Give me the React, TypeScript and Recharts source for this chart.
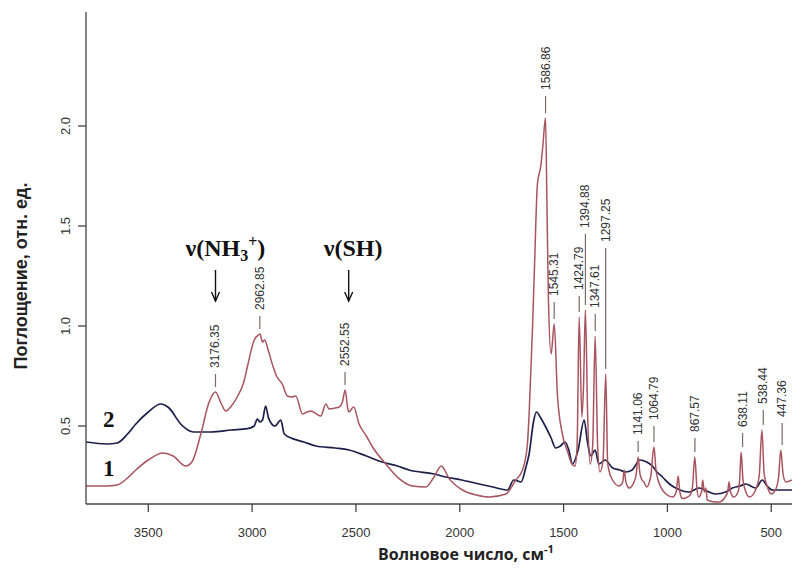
import { LineChart, Line, XAxis, YAxis, ReferenceLine, ReferenceDot, Label } from "recharts";

// spectrum 1 (red) and 2 (dark blue): [wavenumber, absorbance]
const spectrum1: [number, number][] = [
  [3800, 0.2], [3700, 0.2], [3650, 0.205], [3600, 0.24], [3560, 0.28], [3500, 0.33], [3430, 0.365],
  [3380, 0.35], [3320, 0.3], [3290, 0.32], [3247, 0.46], [3207, 0.62], [3176, 0.67], [3150, 0.615],
  [3127, 0.575], [3100, 0.6], [3072, 0.645], [3040, 0.72], [3022, 0.8], [2990, 0.93], [2970, 0.955],
  [2962, 0.96], [2950, 0.92], [2940, 0.93], [2920, 0.87], [2900, 0.8], [2880, 0.745], [2855, 0.71],
  [2830, 0.65], [2810, 0.645], [2790, 0.65], [2757, 0.56], [2735, 0.57], [2717, 0.575], [2690, 0.56],
  [2669, 0.55], [2645, 0.61], [2629, 0.585], [2600, 0.59], [2581, 0.595], [2565, 0.62], [2552, 0.68],
  [2540, 0.59], [2535, 0.57], [2511, 0.595], [2485, 0.51], [2450, 0.45], [2420, 0.395], [2356, 0.31],
  [2292, 0.237], [2228, 0.2], [2164, 0.195], [2124, 0.245], [2089, 0.3], [2051, 0.237], [1987, 0.18],
  [1920, 0.155], [1859, 0.145], [1778, 0.16], [1730, 0.23], [1698, 0.28], [1675, 0.4], [1666, 0.56],
  [1650, 0.98], [1640, 1.3], [1626, 1.71], [1610, 1.8], [1600, 1.9], [1587, 2.04], [1580, 1.6],
  [1573, 1.13], [1560, 0.86], [1545, 1.01], [1530, 0.66], [1506, 0.46], [1480, 0.37], [1460, 0.31],
  [1445, 0.3], [1435, 0.4], [1425, 1.045], [1412, 0.545], [1404, 0.7], [1395, 1.08], [1384, 0.55],
  [1372, 0.31], [1360, 0.4], [1348, 0.95], [1336, 0.4], [1325, 0.27], [1310, 0.33], [1297, 0.76],
  [1288, 0.32], [1282, 0.28], [1264, 0.23], [1232, 0.2], [1215, 0.22], [1208, 0.28], [1200, 0.22],
  [1184, 0.19], [1165, 0.21], [1150, 0.26], [1141, 0.345], [1132, 0.26], [1122, 0.23], [1113, 0.22],
  [1100, 0.195], [1080, 0.25], [1065, 0.395], [1055, 0.28], [1045, 0.23], [1007, 0.16], [975, 0.145],
  [958, 0.17], [948, 0.25], [940, 0.17], [928, 0.137], [895, 0.15], [880, 0.19], [868, 0.345],
  [858, 0.19], [850, 0.145], [836, 0.17], [830, 0.23], [822, 0.17], [815, 0.19], [808, 0.13],
  [770, 0.12], [751, 0.12], [725, 0.14], [710, 0.17], [703, 0.22], [696, 0.17], [680, 0.145],
  [660, 0.17], [652, 0.23], [645, 0.37], [636, 0.23], [625, 0.18], [605, 0.145], [580, 0.17],
  [558, 0.25], [545, 0.48], [534, 0.26], [520, 0.2], [500, 0.16], [480, 0.18], [465, 0.24],
  [454, 0.38], [443, 0.26], [430, 0.22], [400, 0.23],
];

const spectrum2: [number, number][] = [
  [3800, 0.42], [3700, 0.41], [3650, 0.415], [3600, 0.46], [3560, 0.51], [3500, 0.57], [3440, 0.61],
  [3400, 0.59], [3344, 0.51], [3300, 0.475], [3280, 0.47], [3200, 0.47], [3100, 0.48], [3022, 0.487],
  [2990, 0.5], [2975, 0.535], [2962, 0.52], [2950, 0.53], [2935, 0.6], [2920, 0.537], [2890, 0.5],
  [2862, 0.53], [2845, 0.46], [2805, 0.437], [2750, 0.42], [2693, 0.4], [2600, 0.39], [2533, 0.38],
  [2450, 0.35], [2373, 0.32], [2300, 0.3], [2244, 0.28], [2124, 0.26], [2067, 0.245], [1990, 0.23],
  [1907, 0.21], [1840, 0.195], [1770, 0.18], [1740, 0.23], [1720, 0.225], [1705, 0.22], [1680, 0.3],
  [1666, 0.36], [1645, 0.52], [1631, 0.57], [1610, 0.54], [1586, 0.495], [1560, 0.44], [1538, 0.39],
  [1515, 0.4], [1493, 0.42], [1475, 0.38], [1457, 0.31], [1430, 0.38], [1401, 0.53], [1385, 0.42],
  [1369, 0.35], [1348, 0.38], [1330, 0.31], [1300, 0.33], [1264, 0.29], [1230, 0.28], [1200, 0.27],
  [1170, 0.28], [1133, 0.33], [1100, 0.32], [1072, 0.3], [1050, 0.27], [1024, 0.245], [990, 0.21],
  [960, 0.19], [896, 0.17], [848, 0.19], [800, 0.17], [767, 0.16], [720, 0.17], [687, 0.19],
  [650, 0.2], [623, 0.21], [575, 0.19], [543, 0.23], [520, 0.2], [495, 0.18], [450, 0.18], [400, 0.18],
];

// peak labels: wavenumber, peak absorbance, absorbance where the label text starts
const peakWaves = [3176.35, 2962.85, 2552.55, 1586.86, 1545.31, 1424.79, 1394.88, 1347.61, 1297.25, 1141.06, 1064.79, 867.57, 638.11, 538.44, 447.36];
const peakTops = [0.67, 0.96, 0.68, 2.04, 1.01, 1.045, 1.08, 0.95, 0.76, 0.345, 0.395, 0.345, 0.37, 0.48, 0.38];
const peakLabelBases = [0.79, 1.08, 0.8, 2.18, 1.15, 1.18, 1.49, 1.09, 1.42, 0.455, 0.53, 0.47, 0.495, 0.61, 0.545];

const xTicks = [3500, 3000, 2500, 2000, 1500, 1000, 500];
const yTicks = [0.5, 1.0, 1.5, 2.0];

const bandWaves = [3176.35, 2535];
const bandLevel = 1.35;
const curveNames = ["2", "1"];
const curveNameLevels = [0.495, 0.25];
const curveNameWave = 3690;

const data1 = spectrum1.map(([w, a]) => ({ w, a }));
const data2 = spectrum2.map(([w, a]) => ({ w, a }));

const RED = "#a8545f";
const BLUE = "#1c1f4a";
const AXIS = "#444";

const XTick = ({ x, y, payload }: any) => (
  <text x={x} y={y + 23} textAnchor="middle" fontFamily="Liberation Sans, Arial" fontSize={13} fill="#333">
    {payload.value}
  </text>
);

const YTick = ({ x, y, payload }: any) => (
  <text
    x={x - 6}
    y={y}
    transform={`rotate(-90 ${x - 6} ${y})`}
    textAnchor="middle"
    fontFamily="Liberation Sans, Arial"
    fontSize={13}
    fill="#333"
  >
    {payload.value.toFixed(1)}
  </text>
);

const serif = "Liberation Serif, Times New Roman, serif";

function BandMark({ cx, cy, idx }: any) {
  const arrow = (
    <g stroke="#111" strokeWidth={1.4} fill="none">
      <line x1={cx} y1={cy + 14} x2={cx} y2={cy + 45} />
      <polyline points={`${cx - 4},${cy + 36} ${cx},${cy + 45} ${cx + 4},${cy + 36}`} />
    </g>
  );
  if (idx === 0) {
    return (
      <g>
        <text x={cx - 30} y={cy} fontFamily={serif} fontWeight="bold" fontSize={24} fill="#111">
          ν(NH
          <tspan fontSize={16} dy={5}>3</tspan>
          <tspan fontSize={16} dy={-14}>+</tspan>
          <tspan dy={9}>)</tspan>
        </text>
        {arrow}
      </g>
    );
  }
  return (
    <g>
      <text x={cx - 25} y={cy} fontFamily={serif} fontWeight="bold" fontSize={24} fill="#111">
        ν(SH)
      </text>
      {arrow}
    </g>
  );
}

export default function App() {
  return (
    <div style={{ position: "absolute", left: 0, top: 0, background: "#fff" }}>
      <LineChart width={792} height={571} margin={{ top: 12, right: 0, bottom: 0, left: 0 }}>
        <XAxis
          type="number"
          dataKey="w"
          domain={[400, 3800]}
          reversed
          allowDataOverflow
          ticks={xTicks}
          tick={<XTick />}
          tickSize={8}
          height={67}
          stroke={AXIS}
          strokeWidth={1.3}
        >
          <Label
            content={({ viewBox }: any) => (
              <text
                x={viewBox.x + viewBox.width / 2 + 27}
                y={viewBox.y + 56}
                textAnchor="middle"
                fontFamily="Open Sans, sans-serif"
                fontWeight="bold"
                fontSize={16}
                fill="#222"
              >
                Волновое число, см
                <tspan fontSize={11} dy={-7}>-1</tspan>
              </text>
            )}
          />
        </XAxis>
        <YAxis
          type="number"
          domain={[0.11, 2.57]}
          allowDataOverflow
          ticks={yTicks}
          tick={<YTick />}
          tickSize={8}
          width={86}
          stroke={AXIS}
          strokeWidth={1.3}
        >
          <Label
            content={() => {
              const cx = 27;
              const cy = 276;
              return (
                <text
                  x={cx}
                  y={cy}
                  transform={`rotate(-90 ${cx} ${cy})`}
                  textAnchor="middle"
                  fontFamily="Liberation Sans, Arial"
                  fontWeight="bold"
                  fontSize={18}
                  fill="#222"
                >
                  Поглощение, отн. ед.
                </text>
              );
            }}
          />
        </YAxis>

        <Line data={data2} dataKey="a" type="monotone" stroke={BLUE} strokeWidth={1.7} dot={false} isAnimationActive={false} />
        <Line data={data1} dataKey="a" type="monotone" stroke={RED} strokeWidth={1.5} dot={false} isAnimationActive={false} />

        {peakWaves.map((w, i) => (
          <ReferenceLine
            key={`d${i}`}
            segment={[
              { x: w, y: peakTops[i] + 0.025 },
              { x: w, y: peakLabelBases[i] - 0.03 },
            ]}
            stroke="#7a6a6a"
            strokeWidth={1.2}
          />
        ))}
        {peakWaves.map((w, i) => (
          <ReferenceDot
            key={`p${i}`}
            x={w}
            y={peakLabelBases[i]}
            r={0}
            shape={({ cx, cy }: any) => (
              <text
                x={cx + 4}
                y={cy}
                transform={`rotate(-90 ${cx + 4} ${cy})`}
                textAnchor="start"
                fontFamily="Liberation Sans, Arial"
                fontSize={12}
                fill="#333"
              >
                {w.toFixed(2)}
              </text>
            )}
          />
        ))}
        {bandWaves.map((w, i) => (
          <ReferenceDot key={`b${i}`} x={w} y={bandLevel} r={0} shape={(p: any) => <BandMark {...p} idx={i} />} />
        ))}
        {curveNames.map((n, i) => (
          <ReferenceDot
            key={`n${i}`}
            x={curveNameWave}
            y={curveNameLevels[i]}
            r={0}
            shape={({ cx, cy }: any) => (
              <text x={cx} y={cy} textAnchor="middle" fontFamily={serif} fontWeight="bold" fontSize={23} fill="#111">
                {n}
              </text>
            )}
          />
        ))}
      </LineChart>
    </div>
  );
}
